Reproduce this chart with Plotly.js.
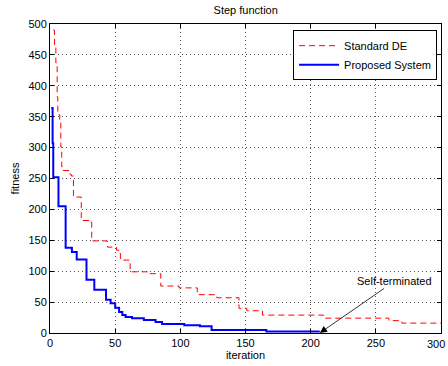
<!DOCTYPE html>
<html>
<head>
<meta charset="utf-8">
<script src="https://cdn.plot.ly/plotly-3.0.1.min.js"></script>
<style>html,body{margin:0;padding:0;background:#fff;}#chart{width:448px;height:366px;}</style>
</head>
<body>
<div id="chart"></div>
<script>
// Standard DE (red dashed) step points
const deX = [2.5, 3.5, 4.5, 5.5, 6, 7.5, 8.3, 9, 9.5, 15.5, 16.5, 18, 24, 32, 44, 51, 54, 61.5, 75, 85, 99, 113, 128, 145, 151, 163, 210, 260, 270, 300];
const deY = [490, 466, 437, 382, 353, 345, 301, 269, 263, 256, 254, 220, 182, 149, 139, 134, 118, 99, 96, 76, 73, 62, 57, 40, 36, 29, 24, 20, 16, 16];
// Proposed System (blue solid) step points
const psX = [1, 2, 2.5, 6.5, 12, 16.8, 20.5, 28, 34, 43, 46.5, 50, 53, 55.5, 58, 63, 72, 81, 86, 103, 115, 124, 166, 207];
const psY = [364, 307, 252, 205, 138, 131, 119, 86, 70, 54, 48, 41, 34, 29, 26, 24, 21, 18, 14.5, 12.5, 11, 5, 2.5, 2.5];
// labels
const chartTitle = "Step function";
const xTitle = "iteration";
const yTitle = "fitness";
const seriesNames = ["Standard DE", "Proposed System"];
const xTickVals = [0, 50, 100, 150, 200, 250, 300];
const xTickText = ["0", "50", "100", "150", "200", "250", ""];
const lastXTick = "300";
const noteText = "Self-terminated";
const notePoint = [207, 0];

const font = {family: "Liberation Sans, Arial, sans-serif", size: 11, color: "#000"};

const traces = [
  {x: deX, y: deY, name: seriesNames[0], mode: "lines", line: {color: "#ff0000", width: 1, dash: "6px,4px", shape: "hv"}},
  {x: psX, y: psY, name: seriesNames[1], mode: "lines", line: {color: "#0000ff", width: 2, shape: "hv"}}
];

const axisCommon = {
  showline: true, linecolor: "#000", linewidth: 1, mirror: "ticks",
  ticks: "inside", ticklen: 4, tickcolor: "#000", tickwidth: 1,
  showgrid: true, gridcolor: "#555", gridwidth: 1, griddash: "1px,3px",
  zeroline: false, tickfont: font
};

const layout = {
  width: 448, height: 366,
  margin: {l: 50, r: 7, t: 24, b: 33},
  paper_bgcolor: "#fff", plot_bgcolor: "#fff",
  font: font,
  title: {text: chartTitle, font: font, x: 0.5485, xanchor: "center", y: 0.972, yanchor: "middle"},
  xaxis: Object.assign({}, axisCommon, {range: [0, 300], tickmode: "array",
    tickvals: xTickVals, ticktext: xTickText,
    title: {text: xTitle, font: font, standoff: 3}}),
  yaxis: Object.assign({}, axisCommon, {range: [0, 500], dtick: 50, tick0: 0,
    title: {text: yTitle, font: font, standoff: 6}}),
  legend: {x: 0.99, xanchor: "right", y: 0.98, yanchor: "top",
    bgcolor: "#fff", bordercolor: "#000", borderwidth: 1, font: font,
    tracegroupgap: 0, itemwidth: 40},
  showlegend: true,
  annotations: [{
    x: notePoint[0], y: notePoint[1], xref: "x", yref: "y",
    text: noteText, font: font, showarrow: true,
    arrowhead: 2, arrowsize: 1.8, arrowwidth: 0.8, arrowcolor: "#000",
    ax: 75, ay: -52, standoff: 0
  }, {
    x: xTickVals[xTickVals.length - 1], y: 0, xref: "x", yref: "paper",
    text: lastXTick, font: font, showarrow: false,
    xanchor: "right", yanchor: "top", xshift: 6, yshift: -3
  }]
};

Plotly.newPlot("chart", traces, layout, {displayModeBar: false, staticPlot: true});
</script>
</body>
</html>
